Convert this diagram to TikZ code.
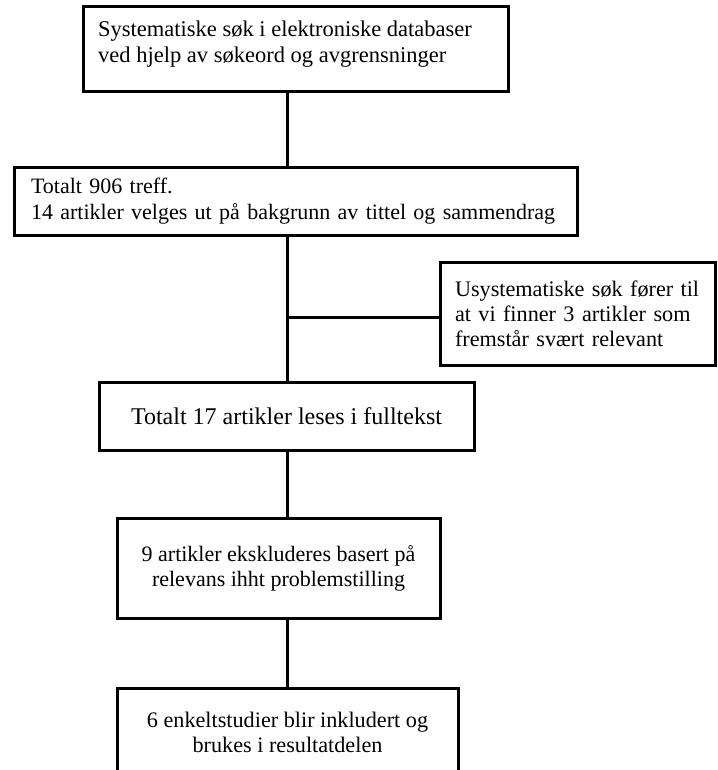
\documentclass[tikz,border=0pt]{standalone}
\usepackage{fontspec}
\setmainfont{Liberation Serif}
\begin{document}
\begin{tikzpicture}[x=1pt,y=-1pt,
  box/.style={draw=black, line width=3pt, inner sep=0pt},
  conn/.style={draw=black, line width=3pt},
  txt/.style={font=\fontsize{22.5}{25.5}\selectfont},
  txtc/.style={font=\fontsize{22}{26}\selectfont},
  txtb/.style={font=\fontsize{22.2}{25}\selectfont}]
\useasboundingbox (0,0) rectangle (717,770);
\clip (0,0) rectangle (717,770);

\node[box, minimum width=425pt, minimum height=85pt] (b1) at (295.5,49.5) {};
\node[txt, anchor=north west, inner sep=0pt, align=left] (t1) at (98,21)
  {Systematiske søk i elektroniske databaser\\ved hjelp av søkeord og avgrensninger};

\node[box, txtc, minimum width=563pt, minimum height=67pt, text width=529pt,
  inner xsep=17pt, align=left] (b2) at (295.5,201.5)
  {\mbox{Totalt 906 treff.}\\\mbox{14 artikler velges ut på bakgrunn av tittel og sammendrag}};

\node[box, font=\fontsize{22.2}{25}\selectfont, minimum width=275pt, minimum height=103pt,
  text width=245pt, inner xsep=15pt, align=left] (b3) at (577.5,313.5)
  {\mbox{Usystematiske søk fører til}\\\mbox{at vi finner 3 artikler som}\\\mbox{fremstår svært relevant}};

\node[box, font=\fontsize{24}{27}\selectfont, minimum width=375pt, minimum height=68pt,
  align=center] (b4) at (286.5,416) {Totalt 17 artikler leses i fulltekst};

\node[box, font=\fontsize{22}{25}\selectfont, minimum width=323pt, minimum height=100pt,
  align=center] (b5) at (278.5,568) {9 artikler ekskluderes basert på\\relevans ihht problemstilling};

\node[box, txtb, minimum width=341pt, minimum height=89pt, align=center] (b6)
  at (287.5,732.5) {6 enkeltstudier blir inkludert og\\brukes i resultatdelen};

\coordinate (sp) at (287,0);
\coordinate (j) at (287,317);
\draw[conn] (b1.south -| sp) -- (b2.north -| sp);
\draw[conn] (b2.south -| sp) -- (b4.north -| sp);
\draw[conn] (j) -- (j -| b3.west);
\draw[conn] (b4.south -| sp) -- (b5.north -| sp);
\draw[conn] (b5.south -| sp) -- (b6.north -| sp);
\end{tikzpicture}
\end{document}
